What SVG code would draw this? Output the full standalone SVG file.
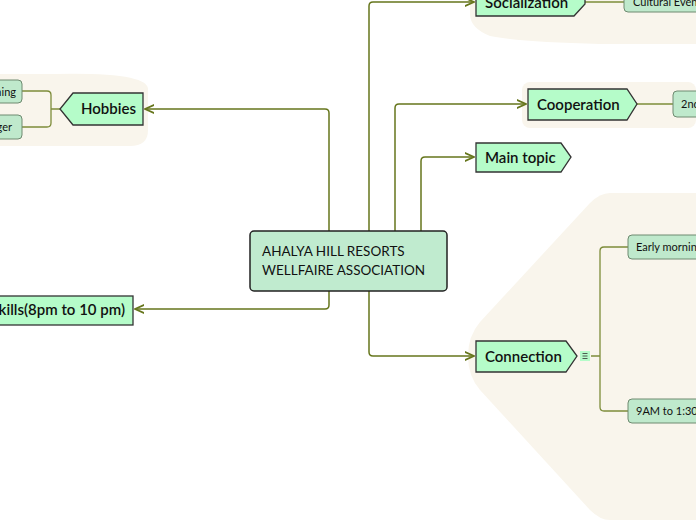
<svg xmlns="http://www.w3.org/2000/svg" width="696" height="520" viewBox="0 0 696 520">
<style>
text{font-family:Lato,"Open Sans","Liberation Sans",sans-serif;fill:#111}
.main{fill:#b5fcc9;stroke:#333;stroke-width:1.3}
.sub{fill:#bfe9cc;stroke:#6e8a70;stroke-width:1}
.blob{fill:#f9f5ec}
.lbl{font-size:15px;font-weight:600}
.sl{font-size:11px}
.c{fill:none;stroke:#66761c;stroke-width:1.5}
.cc{fill:none;stroke:#7d8c3a;stroke-width:1.3}
</style>
<defs>
<marker id="ar" viewBox="0 0 10 10" refX="9" refY="5" markerWidth="7" markerHeight="7" orient="auto-start-reverse">
<path d="M0,1 L9,5 L0,9" fill="none" stroke="#66761c" stroke-width="1.6"/>
</marker>
</defs>
<rect width="696" height="520" fill="#fff"/>
<g id="blobs">
<path class="blob" d="M0,74 H55 Q150,72 148,90 V130 Q148,146 130,146 H0 Z"/>
<path class="blob" d="M470,0 H696 V44 H600 Q520,42 490,36 Q470,28 470,14 Z"/>
<rect class="blob" x="522" y="82" width="174" height="46" rx="8"/>
<path class="blob" d="M610,193 H696 V520 H610 Q600,520 590,510 L480,390 Q468,376 468,356 Q468,336 480,322 L590,203 Q600,193 610,193 Z"/>
</g>
<g id="connectors">
<path class="c" d="M329,231 V113 Q329,109 325,109 H145" marker-end="url(#ar)"/>
<path class="c" d="M369,231 V6 Q369,2 373,2 H474" marker-end="url(#ar)"/>
<path class="c" d="M395,231 V108 Q395,104 399,104 H526" marker-end="url(#ar)"/>
<path class="c" d="M421,231 V161 Q421,157 425,157 H474" marker-end="url(#ar)"/>
<path class="c" d="M329,291 V305 Q329,309 325,309 H135" marker-end="url(#ar)"/>
<path class="c" d="M369,291 V352 Q369,356 373,356 H474" marker-end="url(#ar)"/>
<path class="cc" d="M60,109 H51 M51,95 Q51,91 47,91 H22 M51,95 V123 Q51,127 47,127 H22"/>
<path class="cc" d="M585,2 H624"/>
<path class="cc" d="M637,104 H673"/>
<path class="cc" d="M591,356 H600 M628,247 H604 Q600,247 600,251 V407 Q600,411 604,411 H628"/>
</g>
<g id="center">
<rect x="250" y="231" width="197" height="60" rx="4" fill="#c0ebcf" stroke="#222" stroke-width="1.5"/>
<text x="262" y="256" font-size="13.5">AHALYA HILL RESORTS</text>
<text x="262" y="275" font-size="13.5">WELLFAIRE ASSOCIATION</text>
</g>
<g id="hobbies">
<path class="main" d="M143,93 V125 H73 L60,109 L73,93 Z"/>
<text class="lbl" x="81" y="114">Hobbies</text>
</g>
<g id="hobby1"><rect class="sub" x="-50" y="80" width="72" height="23" rx="4"/><text class="sl" x="16" y="96" text-anchor="end">Gardening</text></g>
<g id="hobby2"><rect class="sub" x="-50" y="115" width="72" height="24" rx="4"/><text class="sl" x="12" y="131" text-anchor="end">Manager</text></g>
<g id="socialization">
<path class="main" d="M476,-10 H585 V4 L574,16 H476 Z"/>
<text class="lbl" x="485" y="8">Socialization</text>
</g>
<g id="cultural"><rect class="sub" x="624" y="-12" width="90" height="24" rx="4"/><text class="sl" x="633" y="6">Cultural Events</text></g>
<g id="cooperation">
<path class="main" d="M528,89 H627 L637,104 L627,120 H528 Z"/>
<text class="lbl" x="537" y="110">Cooperation</text>
</g>
<g id="second"><rect class="sub" x="673" y="91" width="40" height="26" rx="4"/><text class="sl" x="681" y="108">2nd</text></g>
<g id="maintopic">
<path class="main" d="M476,143 H561 L571,157 L561,172 H476 Z"/>
<text class="lbl" x="485" y="163">Main topic</text>
</g>
<g id="connection">
<path class="main" d="M476,341 H566 L577,356 L566,372 H476 Z"/>
<text class="lbl" x="485" y="362">Connection</text>
<rect x="580" y="351" width="10" height="10" fill="#b5fcc9"/>
<path d="M582.5,353.5 H587.5 M582.5,356 H587.5 M582.5,358.5 H587.5" stroke="#333" stroke-width="0.8"/>
</g>
<g id="early"><rect class="sub" x="628" y="235" width="90" height="24" rx="4"/><text class="sl" x="636" y="251">Early morning</text></g>
<g id="nineam"><rect class="sub" x="628" y="399" width="90" height="24" rx="4"/><text class="sl" x="636" y="415">9AM to 1:30</text></g>
<g id="skills">
<rect class="main" x="-60" y="296" width="193" height="29"/>
<text class="lbl" x="125" y="315" text-anchor="end">Skills(8pm to 10 pm)</text>
</g>
</svg>
